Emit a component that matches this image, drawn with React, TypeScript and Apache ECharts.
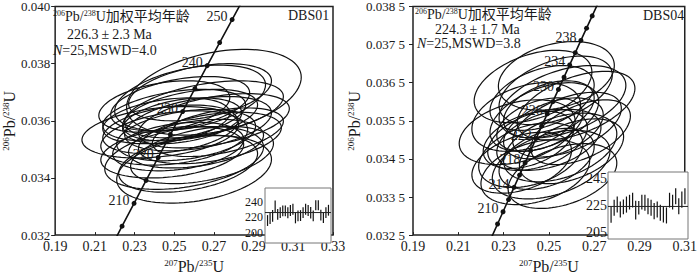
import React, { useEffect, useRef } from "react";
import * as echarts from "echarts";

const FONT = '"Liberation Serif", "Times New Roman", "Noto Sans CJK SC", serif';
const INK = "#1a1a1a";

// ---------- DBS01 (left panel) ----------
const dbs01ConcAges = [200, 205, 210, 215, 220, 225, 230, 235, 240, 245, 250, 255];
const dbs01ConcX = [0.217708, 0.223719, 0.22976, 0.23583, 0.241931, 0.248061, 0.254222, 0.260414, 0.266636, 0.272888, 0.279172, 0.285486];
const dbs01ConcY = [0.031511, 0.0323116, 0.0331127, 0.0339142, 0.0347165, 0.0355193, 0.0363229, 0.0371269, 0.0379316, 0.038737, 0.039543, 0.0403496];
const dbs01LabelAges = [210, 220, 230, 240, 250];

const dbs01EllCx = [0.270, 0.258, 0.243, 0.255, 0.260, 0.264, 0.270, 0.250, 0.248, 0.256, 0.262, 0.252, 0.265, 0.246, 0.258, 0.253, 0.261, 0.249, 0.268, 0.254, 0.245, 0.257, 0.272, 0.250, 0.263];
const dbs01EllCy = [0.0370, 0.0368, 0.0356, 0.0347, 0.0343, 0.0348, 0.036, 0.0362, 0.0357, 0.0355, 0.0359, 0.0351, 0.0364, 0.036, 0.0362, 0.0366, 0.0352, 0.0349, 0.0354, 0.036, 0.0365, 0.0345, 0.0356, 0.0354, 0.037];
const dbs01EllA = [0.044, 0.038, 0.0395, 0.04, 0.039, 0.036, 0.038, 0.036, 0.034, 0.035, 0.037, 0.033, 0.04, 0.032, 0.034, 0.035, 0.034, 0.036, 0.036, 0.03, 0.033, 0.035, 0.033, 0.037, 0.036];
const dbs01EllB = [0.0015, 0.00115, 0.0009, 0.0011, 0.00118, 0.001, 0.00095, 0.0009, 0.00085, 0.0009, 0.00095, 0.00085, 0.001, 0.0008, 0.0009, 0.00095, 0.00085, 0.0009, 0.0009, 0.0008, 0.0009, 0.001, 0.00085, 0.00095, 0.001];
const dbs01EllRho = [0.35, 0.4, 0.3, 0.35, 0.3, 0.4, 0.45, 0.4, 0.35, 0.35, 0.4, 0.3, 0.45, 0.35, 0.4, 0.4, 0.35, 0.3, 0.4, 0.35, 0.35, 0.35, 0.45, 0.3, 0.4];

const dbs01Ages = [216, 218.6, 222, 234.5, 224, 226.3, 228.4, 228.4, 226, 229, 230.6, 219.4, 222, 222.4, 226.3, 230.6, 229, 226, 222, 235.8, 235.8, 222.9, 219.8, 226.3, 229.3];
const dbs01Err = [7, 7, 7.5, 7.5, 7, 7, 7, 7, 7, 7, 7, 7, 7, 7, 7, 7, 7, 7.5, 7, 6.5, 6.5, 7, 7, 7, 7];
const dbs01Mean = 226.3;

// ---------- DBS04 (right panel) ----------
const dbs04ConcAges = [202, 204, 206, 208, 210, 212, 214, 216, 218, 220, 222, 224, 226, 228, 230, 232, 234, 236, 238, 240, 242, 244, 246];
const dbs04ConcX = [0.220109, 0.222514, 0.224925, 0.22734, 0.22976, 0.232184, 0.234614, 0.237048, 0.239487, 0.241931, 0.244379, 0.246833, 0.249292, 0.251754, 0.254222, 0.256695, 0.259172, 0.261655, 0.264145, 0.266636, 0.269133, 0.271635, 0.274142];
const dbs04ConcY = [0.0318313, 0.0321515, 0.0324718, 0.0327922, 0.0331127, 0.0334332, 0.0337539, 0.0340746, 0.0343955, 0.0347165, 0.0350376, 0.0353587, 0.0356799, 0.0360013, 0.0363229, 0.0366444, 0.0369661, 0.0372878, 0.0376097, 0.0379316, 0.0382538, 0.0385759, 0.0388981];
const dbs04LabelAges = [210, 214, 218, 222, 226, 230, 234, 238];

const dbs04EllCx = [0.2533, 0.256, 0.262, 0.236, 0.251, 0.245, 0.248, 0.242, 0.255, 0.247, 0.24, 0.252, 0.258, 0.244, 0.25, 0.26, 0.238, 0.249, 0.253, 0.243, 0.256, 0.246, 0.264, 0.241, 0.25];
const dbs04EllCy = [0.03668, 0.036, 0.0359, 0.0352, 0.03435, 0.035, 0.0356, 0.0346, 0.0348, 0.0361, 0.0356, 0.0353, 0.0354, 0.03415, 0.0358, 0.0347, 0.0344, 0.0345, 0.0363, 0.0364, 0.03405, 0.0354, 0.0352, 0.035, 0.035];
const dbs04EllA = [0.0256, 0.028, 0.026, 0.0256, 0.026, 0.022, 0.024, 0.023, 0.025, 0.023, 0.024, 0.022, 0.024, 0.024, 0.02, 0.023, 0.022, 0.021, 0.025, 0.026, 0.024, 0.019, 0.022, 0.02, 0.023];
const dbs04EllB = [0.0009, 0.00095, 0.0009, 0.00085, 0.0009, 0.0008, 0.0009, 0.00085, 0.0009, 0.00085, 0.0009, 0.0008, 0.00085, 0.00085, 0.00075, 0.00085, 0.0008, 0.0008, 0.0009, 0.00095, 0.00085, 0.0007, 0.00085, 0.00075, 0.0008];
const dbs04EllRho = [0.3, 0.45, 0.5, 0.35, 0.4, 0.4, 0.45, 0.35, 0.4, 0.4, 0.35, 0.45, 0.5, 0.35, 0.4, 0.45, 0.4, 0.4, 0.45, 0.4, 0.4, 0.4, 0.5, 0.4, 0.4];

const dbs04Ages = [218.1, 223.3, 225.7, 222, 224, 225.7, 227.5, 229, 221.5, 223.3, 227.5, 227, 224.5, 223.3, 220.8, 222, 219.6, 218.3, 217.6, 229, 227.5, 231.9, 224.5, 229.4, 231.9];
const dbs04Err = [6, 6, 6, 6, 5.5, 6, 5.5, 5.5, 7, 5, 5.5, 6, 6, 6, 6, 6, 6, 6, 6, 5.5, 5.5, 6, 6, 6, 6];
const dbs04Mean = 224.3;

const subStyles = {
  sup: { fontSize: 8, fontFamily: FONT, verticalAlign: "top", color: INK, fill: INK },
  it: { fontSize: 14, fontFamily: FONT, fontStyle: "italic", color: INK, fill: INK },
  pm: { fontSize: 14, fontFamily: FONT, padding: [0, 3], color: INK, fill: INK },
};
const nameStyles = {
  sup: { fontSize: 9, fontFamily: FONT, verticalAlign: "top", color: INK },
};

function ellipseRender(_params: any, api: any) {
  const cx = api.value(0), cy = api.value(1), a = api.value(2), b = api.value(3), r = api.value(4);
  const s = Math.sqrt(1 - r * r);
  const pts: number[][] = [];
  const n = 96;
  for (let k = 0; k < n; k++) {
    const t = (2 * Math.PI * k) / n;
    pts.push(api.coord([cx + a * Math.cos(t), cy + b * (r * Math.cos(t) + s * Math.sin(t))]));
  }
  return { type: "polygon", shape: { points: pts }, style: { fill: "none", stroke: "#111", lineWidth: 1.2 } };
}

function barRender(_params: any, api: any) {
  const i = api.value(0), v = api.value(1), e = api.value(2);
  const p1 = api.coord([i, v - e]);
  const p2 = api.coord([i, v + e]);
  return { type: "line", shape: { x1: p1[0], y1: p1[1], x2: p2[0], y2: p2[1] }, style: { stroke: "#111", lineWidth: 1.2 } };
}

function concData(ages: number[], xs: number[], ys: number[], labelAges: number[]) {
  return ages.map((age, i) => ({
    value: [xs[i], ys[i]],
    label: labelAges.includes(age)
      ? { show: true, formatter: String(age), position: "left", distance: 2, offset: [0, -3], fontSize: 14, fontFamily: FONT, color: INK }
      : { show: false },
  }));
}

function ellData(cx: number[], cy: number[], a: number[], b: number[], rho: number[]) {
  return cx.map((x, i) => [x, cy[i], a[i], b[i], rho[i]]);
}

const axisNameText = (a: string, b: string) => `{sup|${a}}Pb/{sup|${b}}U`;

function mainX(gridIndex: number, max: number) {
  return {
    gridIndex, type: "value", min: 0.19, max, interval: 0.02,
    axisLine: { show: false },
    axisTick: { show: true, inside: true, length: 3, lineStyle: { color: "#222" } },
    splitLine: { show: false },
    axisLabel: { fontSize: 14, fontFamily: FONT, color: INK, margin: 4, formatter: (v: number) => v.toFixed(2) },
    name: axisNameText("207", "235"), nameLocation: "middle", nameGap: 17,
    nameTextStyle: { fontSize: 16, fontFamily: FONT, color: INK, rich: nameStyles },
  };
}

function mainY(gridIndex: number, min: number, max: number, interval: number, fmt: (v: number) => string, nameGap: number, margin: number) {
  return {
    gridIndex, type: "value", min, max, interval,
    axisLine: { show: false },
    axisTick: { show: true, inside: false, length: 4, lineStyle: { color: "#222" } },
    splitLine: { show: false },
    axisLabel: { fontSize: 13, fontFamily: FONT, color: INK, margin, formatter: fmt },
    name: axisNameText("206", "238"), nameLocation: "middle", nameGap, nameRotate: 90,
    nameTextStyle: { fontSize: 16, fontFamily: FONT, color: INK, rich: nameStyles },
  };
}

function txt(left: number, top: number, text: string, size = 14) {
  return {
    type: "text", left, top, z: 100,
    style: { text, fontSize: size, fontFamily: FONT, fill: INK, rich: subStyles },
  };
}

export default function App() {
  const ref = useRef<HTMLDivElement>(null);
  useEffect(() => {
    document.body.style.margin = "0";
    if (!ref.current) return;
    const chart = echarts.init(ref.current, undefined, { renderer: "svg" });
    const option: any = {
      animation: false,
      grid: [
        { left: 48, top: 4, width: 285, height: 242, show: true, borderColor: "#222", borderWidth: 1.5, backgroundColor: "transparent" },
        { left: 413, top: 4, width: 277, height: 238, show: true, borderColor: "#222", borderWidth: 1.5, backgroundColor: "transparent" },
        { left: 265, top: 188, width: 66, height: 55, show: true, borderColor: "#777", borderWidth: 1, backgroundColor: "#fff", z: 5 },
        { left: 608, top: 172, width: 80, height: 67, show: true, borderColor: "#777", borderWidth: 1, backgroundColor: "#fff", z: 5 },
      ],
      xAxis: [
        mainX(0, 0.33),
        mainX(1, 0.31),
        { gridIndex: 2, type: "value", min: 0, max: 26, show: false },
        { gridIndex: 3, type: "value", min: 0, max: 26, show: false },
      ],
      yAxis: [
        mainY(0, 0.032, 0.04, 0.002, (v: number) => v.toFixed(3), 31, 5),
        mainY(1, 0.0325, 0.0385, 0.001, (v: number) => { const s = v.toFixed(4); return s.slice(0, 5) + " " + s.slice(5); }, 43, 8),
        {
          gridIndex: 2, type: "value", min: 187, max: 258,
          axisLine: { show: false }, axisTick: { show: false }, splitLine: { show: false },
          axisLabel: { customValues: [200, 220, 240], fontSize: 12, fontFamily: FONT, color: INK, margin: 2 },
        },
        {
          gridIndex: 3, type: "value", min: 200, max: 250,
          axisLine: { show: false }, axisTick: { show: false }, splitLine: { show: false },
          axisLabel: { customValues: [205, 225, 245], fontSize: 14, fontFamily: FONT, color: INK, margin: 1 },
        },
      ],
      series: [
        {
          type: "custom", xAxisIndex: 0, yAxisIndex: 0, renderItem: ellipseRender, clip: true, silent: true, z: 2,
          encode: { x: 0, y: 1 },
          data: ellData(dbs01EllCx, dbs01EllCy, dbs01EllA, dbs01EllB, dbs01EllRho),
        },
        {
          type: "line", xAxisIndex: 0, yAxisIndex: 0, clip: true, z: 3, symbol: "circle", symbolSize: 5, showSymbol: true,
          lineStyle: { color: "#111", width: 1.6 }, itemStyle: { color: "#111" },
          data: concData(dbs01ConcAges, dbs01ConcX, dbs01ConcY, dbs01LabelAges),
        },
        {
          type: "custom", xAxisIndex: 1, yAxisIndex: 1, renderItem: ellipseRender, clip: true, silent: true, z: 2,
          encode: { x: 0, y: 1 },
          data: ellData(dbs04EllCx, dbs04EllCy, dbs04EllA, dbs04EllB, dbs04EllRho),
        },
        {
          type: "line", xAxisIndex: 1, yAxisIndex: 1, clip: true, z: 3, symbol: "circle", symbolSize: 5, showSymbol: true,
          lineStyle: { color: "#111", width: 1.6 }, itemStyle: { color: "#111" },
          data: concData(dbs04ConcAges, dbs04ConcX, dbs04ConcY, dbs04LabelAges),
        },
        {
          type: "custom", xAxisIndex: 2, yAxisIndex: 2, renderItem: barRender, z: 6, encode: { x: 0, y: 1 },
          data: dbs01Ages.map((v, i) => [i + 1, v, dbs01Err[i]]),
        },
        {
          type: "line", xAxisIndex: 2, yAxisIndex: 2, z: 6, symbol: "none", lineStyle: { color: "#222", width: 1 },
          data: [[0, dbs01Mean], [26, dbs01Mean]],
        },
        {
          type: "custom", xAxisIndex: 3, yAxisIndex: 3, renderItem: barRender, z: 6, encode: { x: 0, y: 1 },
          data: dbs04Ages.map((v, i) => [i + 1, v, dbs04Err[i]]),
        },
        {
          type: "line", xAxisIndex: 3, yAxisIndex: 3, z: 6, symbol: "none", lineStyle: { color: "#222", width: 1 },
          data: [[0, dbs04Mean], [26, dbs04Mean]],
        },
      ],
      graphic: [
        txt(53, 9, "{sup|206}Pb/{sup|238}U加权平均年龄"),
        txt(67, 27, "226.3{pm|±}2.3 Ma"),
        txt(53, 43, "{it|N}=25,MSWD=4.0"),
        txt(288, 8, "DBS01"),
        txt(415, 7, "{sup|206}Pb/{sup|238}U加权平均年龄"),
        txt(435, 22, "224.3{pm|±}1.7 Ma"),
        txt(417, 36, "{it|N}=25,MSWD=3.8"),
        txt(643, 8, "DBS04"),
      ],
    };
    chart.setOption(option);
    return () => chart.dispose();
  }, []);
  return <div ref={ref} style={{ width: 700, height: 279 }} />;
}
